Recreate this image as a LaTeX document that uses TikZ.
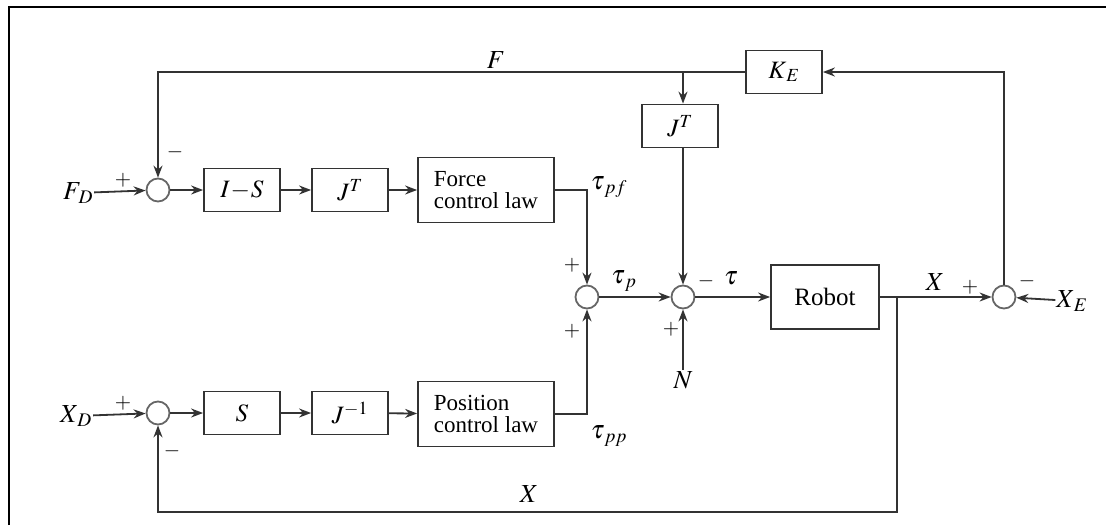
\documentclass[tikz,border=0pt]{standalone}
\usepackage{mathptmx}
\usepackage{fontspec}
\setmainfont{Liberation Serif}
\usetikzlibrary{arrows.meta,positioning,calc}
\tikzset{
  blockbox/.style={rectangle,draw=black!80,line width=1.8pt,minimum width=76pt,minimum height=43pt,align=center,inner sep=3pt},
  lawbox/.style={blockbox,minimum width=136pt,minimum height=65pt,align=left,font=\fontsize{23}{22}\selectfont},
  sumnode/.style={circle,draw=black!60,line width=1.8pt,minimum size=23pt,inner sep=0pt},
  arr/.style={->,>={Stealth[length=12pt,width=9pt]},line width=1.8pt,color=black!80},
  sgn/.style={font=\fontsize{21}{21}\selectfont,inner sep=0pt},
  lbl/.style={inner sep=1pt,font=\fontsize{26}{26}\selectfont}
}
\begin{document}
\begin{tikzpicture}[x=1pt,y=-1pt,font=\fontsize{25}{25}\selectfont]
  \useasboundingbox (0,0) rectangle (1106,525);
  \draw[line width=2.2pt] (9,525) -- (9,7) -- (1106,7);

  % force branch
  \node[sumnode] (sumF) at (158,190) {};
  \node[lbl] (FD) at (78,193) {$F_{\,D}$};
  \node[blockbox] (IS) at (242,190) {$I\!-\!S$};
  \node[blockbox] (JT) at (350,190) {$J^{T}$};
  \node[lawbox] (FCL) at (486,190) {Force\\control law};

  % position branch
  \node[sumnode] (sumX) at (158,413) {};
  \node[lbl] (XD) at (76,416) {$X_{\,D}$};
  \node[blockbox] (S) at (242,413) {$S$};
  \node[blockbox] (Jinv) at (350,413) {$J^{-1}$};
  \node[lawbox] (PCL) at (486,414) {Position\\control law};

  % robot loop
  \node[sumnode] (sumT) at (587,297) {};
  \node[sumnode] (sumN) at (683,297) {};
  \node[blockbox,minimum width=108pt,minimum height=64pt] (robot) at (825,297) {Robot};
  \node[sumnode] (sumE) at (1004,297) {};
  \node[lbl] (XE) at (1072,301) {$X_{\,E}$};
  \node[lbl] (N) at (683,380) {$N$};
  \node[blockbox] (JTc) at (680,126) {$J^{T}$};
  \node[blockbox] (KE) at (784,72) {$K_{\,E}$};
  \coordinate (br) at (897,297);
  \coordinate (botL) at (158,512);

  \draw[arr] (FD) -- (sumF);
  \draw[arr] (sumF) -- (IS);
  \draw[arr] (IS) -- (JT);
  \draw[arr] (JT) -- (FCL);
  \draw[arr] (XD) -- (sumX);
  \draw[arr] (sumX) -- (S);
  \draw[arr] (S) -- (Jinv);
  \draw[arr] (Jinv) -- (PCL);
  \draw[arr] (FCL.east) -| (sumT.north);
  \draw[arr] (PCL.east) -| (sumT.south);
  \draw[arr] (sumT) -- (sumN);
  \draw[arr] (sumN) -- (robot);
  \draw[arr] (robot) -- (sumE);
  \draw[arr] (XE) -- (sumE);
  \draw[arr] (N) -- (sumN);
  \draw[arr] (br) |- (botL) -- (sumX.south);
  \draw[arr] (sumE.north) |- (KE.east);
  \draw[arr] (KE.west) -| (sumF.north);
  \draw[arr] (KE.west -| sumN) -- (JTc.north -| sumN);
  \draw[arr] (JTc.south -| sumN) -- (sumN.north);

  % signs and signal names
  \node[sgn] at (123,180) {$+$};
  \node[sgn] at (175,152) {$-$};
  \node[sgn] at (123,403) {$+$};
  \node[sgn] at (172,451) {$-$};
  \node[sgn] at (572,265) {$+$};
  \node[sgn] at (572,331) {$+$};
  \node[sgn] at (671,329) {$+$};
  \node[sgn] at (706,281) {$-$};
  \node[sgn] at (970,287) {$+$};
  \node[sgn] at (1027,281) {$-$};
  \node[lbl] at (496,60) {$F$};
  \node[lbl] at (529,494) {$X$};
  \node[lbl] at (935,282) {$X$};
  \node[lbl] at (624,281) {$\tau_{\,p}$};
  \node[lbl] at (731,278) {$\tau$};
  \node[lbl] at (609,187) {$\tau_{\,pf}$};
  \node[lbl] at (609,436) {$\tau_{\,pp}$};
\end{tikzpicture}
\end{document}
